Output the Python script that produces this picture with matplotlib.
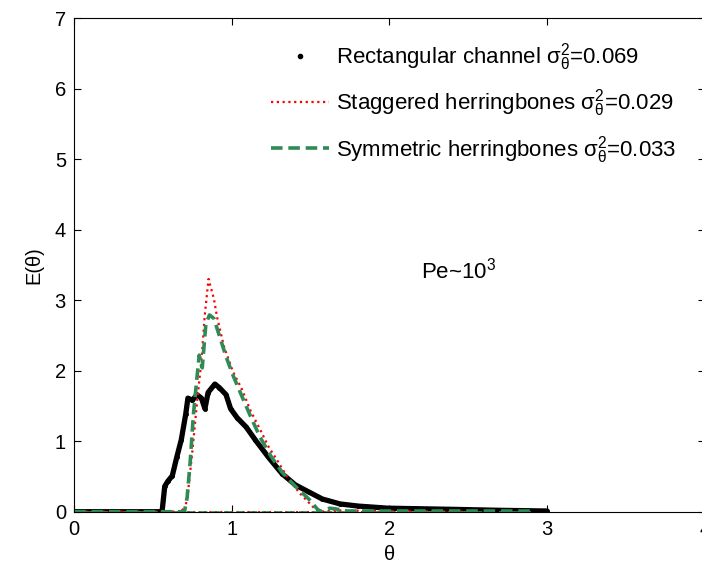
import numpy as np
import matplotlib
matplotlib.use('Agg')
import matplotlib.pyplot as plt
from matplotlib.lines import Line2D

plt.rcParams['font.family'] = ['Liberation Sans', 'DejaVu Sans']
plt.rcParams['mathtext.fontset'] = 'custom'
plt.rcParams['mathtext.rm'] = 'Liberation Sans'
plt.rcParams['mathtext.it'] = 'Liberation Sans:italic'

# Rectangular channel (black)
theta_rect = [0.0, 0.557, 0.574, 0.593, 0.622, 0.65, 0.679, 0.707, 0.721, 0.75, 0.778, 0.807,
              0.829, 0.849, 0.892, 0.92, 0.963, 0.992, 1.034, 1.091, 1.148, 1.233, 1.318,
              1.403, 1.488, 1.574, 1.687, 1.801, 1.99, 2.37, 2.7, 3.0]
E_rect = [0.0, 0.0, 0.36, 0.43, 0.51, 0.77, 1.02, 1.38, 1.61, 1.58, 1.66, 1.61,
          1.46, 1.69, 1.81, 1.76, 1.66, 1.46, 1.33, 1.20, 1.02, 0.77, 0.54,
          0.38, 0.28, 0.18, 0.11, 0.08, 0.05, 0.035, 0.02, 0.01]

# Staggered herringbones (red dotted)
theta_stag = [0.0, 0.664, 0.68, 0.70, 0.721, 0.75, 0.778, 0.807, 0.829, 0.852, 0.886, 0.906,
              0.949, 1.006, 1.063, 1.119, 1.176, 1.233, 1.29, 1.36, 1.432, 1.488, 1.531,
              1.57, 1.65, 2.0, 2.5]
E_stag = [0.0, 0.0, 0.05, 0.0, 0.26, 0.87, 1.53, 2.15, 2.81, 3.30, 3.02, 2.76,
          2.35, 1.99, 1.74, 1.43, 1.18, 0.92, 0.72, 0.46, 0.26, 0.13, 0.03,
          0.0, 0.02, 0.01, 0.0]

# Symmetric herringbones (green dashed)
theta_sym = [0.0, 0.699, 0.716, 0.736, 0.756, 0.778, 0.793, 0.812, 0.835, 0.858, 0.886, 0.92,
             0.963, 1.006, 1.063, 1.119, 1.176, 1.247, 1.318, 1.403, 1.488, 1.545, 1.57,
             1.62, 1.66, 1.72, 2.0, 2.9]
E_sym = [0.0, 0.0, 0.2, 0.72, 1.38, 1.89, 2.22, 2.04, 2.66, 2.79, 2.74, 2.50,
         2.20, 1.94, 1.64, 1.35, 1.07, 0.79, 0.56, 0.36, 0.18, 0.03, 0.0,
         0.05, 0.04, 0.01, 0.01, 0.01]

# zero-level segments of the red / green series
theta_zero_stag = [0.0, 2.5]
theta_zero_sym = [0.0, 2.9]

labels = [r'Rectangular channel $\mathregular{\sigma_{\theta}^{2}}$=0.069',
          r'Staggered herringbones $\mathregular{\sigma_{\theta}^{2}}$=0.029',
          r'Symmetric herringbones $\mathregular{\sigma_{\theta}^{2}}$=0.033']

green = '#2e8b57'

fig = plt.figure(figsize=(7.02, 5.65), dpi=100)
ax = fig.add_axes([0.1058, 0.0943, 0.898, 0.8738])

ax.plot(theta_rect, E_rect, color='black', lw=3.8, marker='.', ms=5,
        solid_joinstyle='round', solid_capstyle='round')
ax.plot(theta_zero_stag, [0, 0], color='red', lw=1.5, ls=(0, (1, 1.6)))
ax.plot(theta_stag, E_stag, color='red', lw=1.6, ls=(0, (1, 1.6)))
ax.plot(theta_zero_sym, [0, 0], color=green, lw=1.2, ls=(0, (5, 2.5)))
ax.plot(theta_sym, E_sym, color=green, lw=2.6, ls=(0, (3.2, 1.6)))

ax.set_xlim(0, 4)
ax.set_ylim(0, 7)
ax.set_xticks([0, 1, 2, 3, 4])
ax.set_yticks(range(0, 8))
ax.tick_params(direction='in', length=5, width=0.8, top=True, right=True,
               labelsize=14.5, pad=6)
for s in ax.spines.values():
    s.set_linewidth(0.8)

ax.set_xlabel('θ', fontsize=14.5, labelpad=4)
ax.set_ylabel('E(θ)', fontsize=14.5, labelpad=8)

ax.text(2.2, 3.3, 'Pe~10$\\mathregular{^{3}}$', fontsize=16)

handles = [Line2D([], [], color='black', marker='.', ls='none', ms=6),
           Line2D([], [], color='red', lw=1.6, ls=(0, (1, 1.6))),
           Line2D([], [], color=green, lw=2.6, ls=(0, (3.2, 1.6)))]
ax.legend(handles, labels, loc='upper left', bbox_to_anchor=(271 / 702, 1 - 41 / 565),
          bbox_transform=fig.transFigure, frameon=False, fontsize=16,
          handlelength=2.6, handletextpad=0.33, labelspacing=0.65,
          borderpad=0, borderaxespad=0)

fig.savefig('out.png', dpi=100)
